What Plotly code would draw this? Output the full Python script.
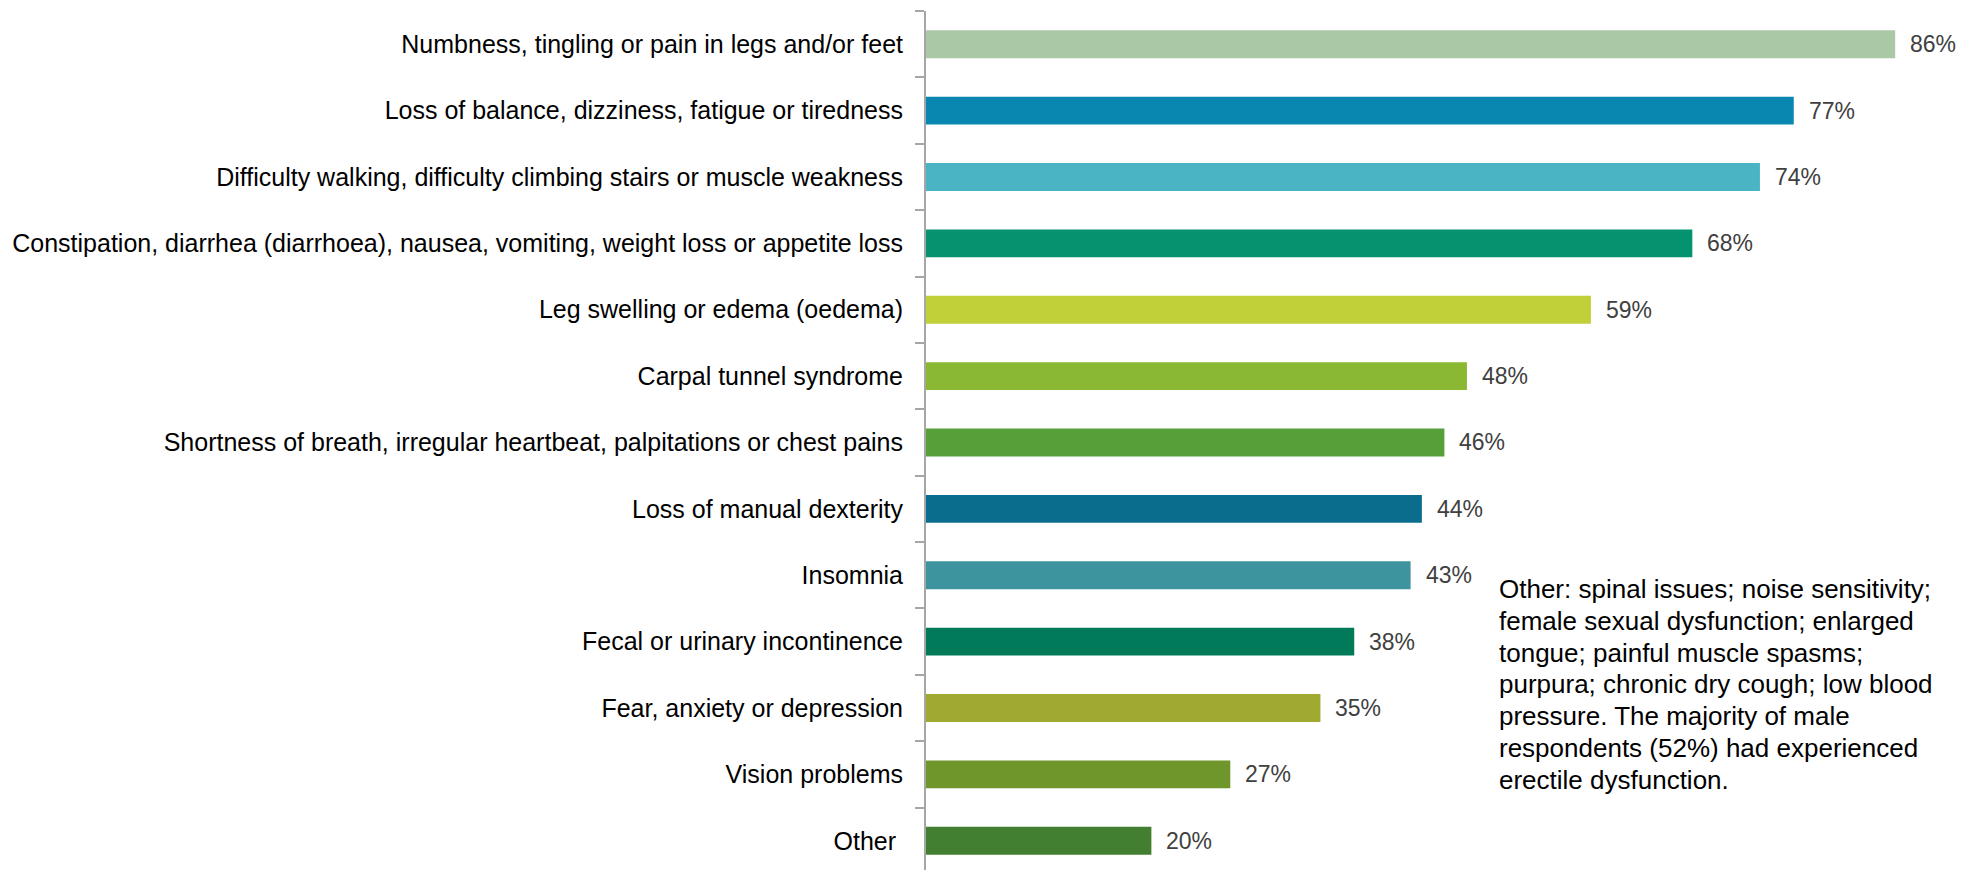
import plotly.graph_objects as go

categories = [
    "Numbness, tingling or pain in legs and/or feet",
    "Loss of balance, dizziness, fatigue or tiredness",
    "Difficulty walking, difficulty climbing stairs or muscle weakness",
    "Constipation, diarrhea (diarrhoea), nausea, vomiting, weight loss or appetite loss",
    "Leg swelling or edema (oedema)",
    "Carpal tunnel syndrome",
    "Shortness of breath, irregular heartbeat, palpitations or chest pains",
    "Loss of manual dexterity",
    "Insomnia",
    "Fecal or urinary incontinence",
    "Fear, anxiety or depression",
    "Vision problems",
    "Other\u00a0",
]
values = [86, 77, 74, 68, 59, 48, 46, 44, 43, 38, 35, 27, 20]
value_labels = ["86%", "77%", "74%", "68%", "59%", "48%", "46%", "44%", "43%", "38%", "35%", "27%", "20%"]
colors = [
    "#AAC8A5", "#0A87B1", "#4AB3C4", "#05936F", "#C0D038", "#8AB833",
    "#569F39", "#0A6D8E", "#3D949E", "#017A59", "#A0AA30", "#6E962A", "#437F30",
]
note_lines = [
    "Other: spinal issues; noise sensitivity;",
    "female sexual dysfunction; enlarged",
    "tongue; painful muscle spasms;",
    "purpura; chronic dry cough; low blood",
    "pressure. The majority of male",
    "respondents (52%) had experienced",
    "erectile dysfunction.",
]

W, H = 1969, 870
L, R, T, B = 926, 31, 11, 0
FONT = "Liberation Sans, Arial"

fig = go.Figure()
fig.add_trace(go.Bar(
    x=values, y=categories, orientation="h",
    marker=dict(color=colors, line=dict(width=0)),
    hoverinfo="skip",
))

annotations = []
for cat, v, lab in zip(categories, values, value_labels):
    annotations.append(dict(
        x=v, y=cat, xref="x", yref="y", text=lab, showarrow=False,
        xanchor="left", yanchor="middle", xshift=13,
        font=dict(family=FONT, size=23, color="#404040"),
    ))

plot_w = W - L - R
plot_h = H - T - B
line_h = 31.8
first_mid = 589  # pixel y of the middle of the first note line
for i, line in enumerate(note_lines):
    ypix = first_mid + i * line_h
    annotations.append(dict(
        x=(1497 - L) / plot_w, y=1 - (ypix - T) / plot_h, xref="paper", yref="paper",
        text=line, showarrow=False, align="left", xanchor="left", yanchor="middle",
        font=dict(family=FONT, size=26, color="#000000"),
    ))

fig.update_layout(
    width=W, height=H,
    margin=dict(l=L, r=R, t=T, b=B, pad=0, autoexpand=False),
    paper_bgcolor="white", plot_bgcolor="white",
    bargap=0.58,
    showlegend=False,
    annotations=annotations,
    xaxis=dict(range=[0, 89.8], visible=False, fixedrange=True, automargin=False),
    yaxis=dict(
        type="category", range=[12.44, -0.5], automargin=False, fixedrange=True,
        showline=True, linecolor="#A6A6A6", linewidth=2,
        ticks="outside", ticklen=9, tickcolor="#A6A6A6", tickwidth=2,
        tickson="boundaries", showgrid=False, zeroline=False,
        tickfont=dict(family=FONT, size=25, color="#000000"),
        ticklabelstandoff=16,
    ),
)

fig.write_html(
    "out.html",
    config={"displayModeBar": False, "staticPlot": True},
    post_script="document.body.style.margin='0px';",
)
